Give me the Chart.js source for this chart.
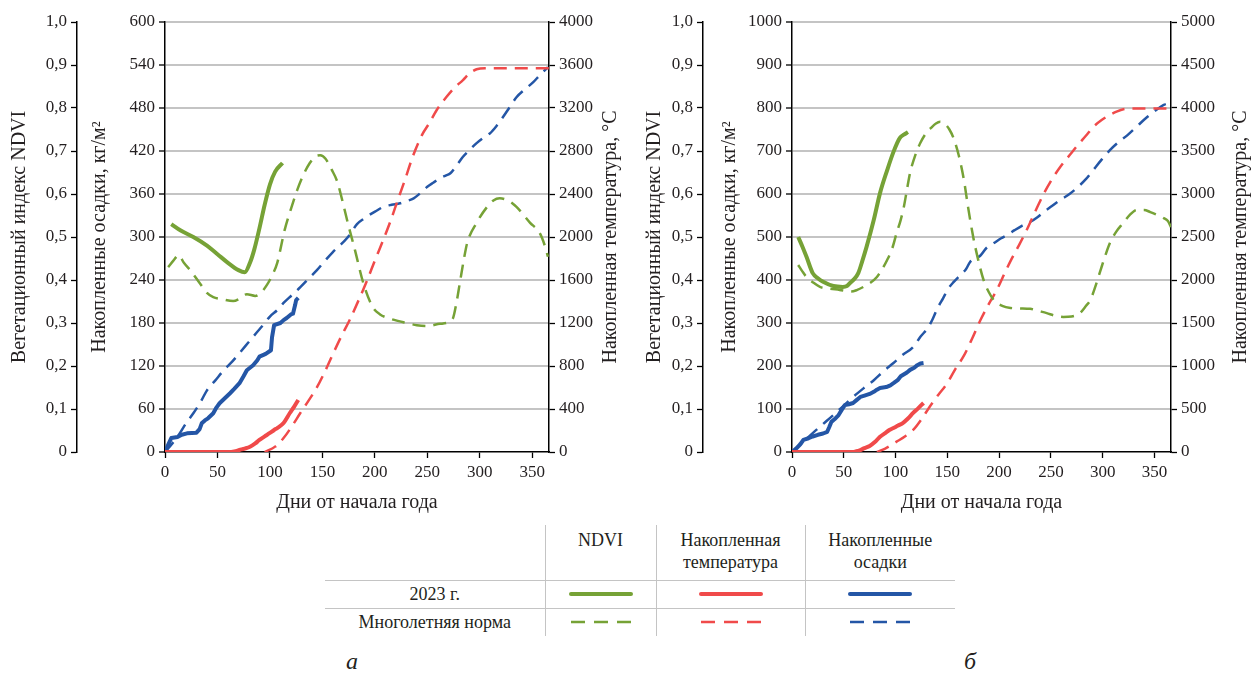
<!DOCTYPE html>
<html lang="ru">

<head>
    <meta charset="UTF-8">
    <title>NDVI, накопленная температура и осадки</title>
    <script src="https://cdn.jsdelivr.net/npm/chart.js@4.4.1/dist/chart.umd.min.js"></script>
    <style>
        body {
            margin: 0;
            background: #fff;
            font-family: "Liberation Serif", "Tinos", "Times New Roman", "DejaVu Serif", serif;
            color: #231f20;
        }

        .panel {
            position: absolute;
            top: 0;
            height: 520px;
        }

        #panelA { left: 0; width: 632px; }
        #panelB { left: 640px; width: 612px; }

        .legend {
            position: absolute;
            left: 325px;
            top: 525px;
            border-collapse: collapse;
            font-size: 18px;
            line-height: 22px;
        }

        .legend td {
            padding: 0;
            text-align: center;
            border-color: #c4c4c4;
            border-style: solid;
            border-width: 0;
        }

        .legend tr.head td { height: 55px; vertical-align: top; padding-top: 4px; box-sizing: border-box; }
        .legend tr.row td { height: 27px; }
        .legend tr.row td { border-top-width: 1.5px; }
        .legend td + td { border-left-width: 1.5px; }
        .legend svg { display: block; margin: 0 auto; }

        .tag {
            position: absolute;
            top: 648px;
            font-size: 24px;
            font-style: italic;
        }
    </style>
</head>

<body>
    <div class="panel" id="panelA"><canvas id="chartA"></canvas></div>
    <div class="panel" id="panelB"><canvas id="chartB"></canvas></div>

    <table class="legend">
        <tr class="head">
            <td style="width:220px"></td>
            <td style="width:111px">NDVI</td>
            <td style="width:149px">Накопленная<br>температура</td>
            <td style="width:150px">Накопленные<br>осадки</td>
        </tr>
        <tr class="row">
            <td>2023 г.</td>
            <td><svg width="64" height="8"><line x1="2" y1="4" x2="62" y2="4" stroke="#76a236" stroke-width="4" stroke-linecap="round"/></svg></td>
            <td><svg width="64" height="8"><line x1="2" y1="4" x2="62" y2="4" stroke="#f04a4a" stroke-width="4" stroke-linecap="round"/></svg></td>
            <td><svg width="64" height="8"><line x1="2" y1="4" x2="62" y2="4" stroke="#2456a6" stroke-width="4" stroke-linecap="round"/></svg></td>
        </tr>
        <tr class="row">
            <td>Многолетняя норма</td>
            <td><svg width="64" height="8"><line x1="2" y1="4" x2="62" y2="4" stroke="#76a236" stroke-width="2.5" stroke-dasharray="14 9"/></svg></td>
            <td><svg width="64" height="8"><line x1="2" y1="4" x2="62" y2="4" stroke="#f04a4a" stroke-width="2.5" stroke-dasharray="14 9"/></svg></td>
            <td><svg width="64" height="8"><line x1="2" y1="4" x2="62" y2="4" stroke="#2456a6" stroke-width="2.5" stroke-dasharray="14 9"/></svg></td>
        </tr>
    </table>

    <div class="tag" style="left:346px">а</div>
    <div class="tag" style="left:964px">б</div>

    <script>
        // ---- data: [day, value] pairs ----
        const xTicks = [0, 50, 100, 150, 200, 250, 300, 350];

        // panel a
        const ndvi2023A = [[6,0.53],[15,0.515],[27,0.5],[40,0.48],[50,0.46],[60,0.44],[70,0.423],[76,0.418],[81,0.44],[85,0.47],[90,0.52],[95,0.575],[100,0.622],[105,0.652],[112,0.672]];
        const ndviNormA = [[3,0.43],[8,0.445],[13,0.458],[18,0.44],[25,0.42],[33,0.393],[40,0.37],[46,0.36],[55,0.355],[65,0.351],[72,0.358],[78,0.367],[86,0.363],[92,0.372],[97,0.388],[102,0.41],[107,0.44],[114,0.516],[120,0.565],[126,0.609],[132,0.645],[138,0.672],[143,0.687],[148,0.69],[153,0.682],[159,0.656],[164,0.63],[169,0.585],[174,0.535],[181,0.47],[189,0.393],[198,0.337],[205,0.32],[212,0.312],[230,0.3],[240,0.295],[250,0.293],[262,0.298],[274,0.309],[278,0.35],[281,0.393],[285,0.45],[288,0.486],[297,0.533],[307,0.57],[313,0.585],[319,0.59],[327,0.585],[335,0.57],[348,0.533],[357,0.51],[362,0.48],[365,0.454]];
        const temp2023A = [[0,0],[30,0],[60,0],[66,5],[71,19],[76,32],[81,49],[86,80],[90,112],[95,145],[100,177],[104,205],[107,223],[113,270],[119,363],[123,420],[127,484]];
        const tempNormA = [[95,0],[105,50],[113,130],[121,240],[129,363],[137,480],[145,605],[153,760],[160,910],[168,1075],[176,1228],[184,1400],[192,1581],[200,1780],[208,1972],[215,2150],[221,2320],[229,2540],[236,2744],[245,2950],[252,3060],[259,3181],[268,3300],[276,3390],[284,3460],[290,3520],[297,3560],[305,3570],[366,3570]];
        const precip2023A = [[0,0],[3,10],[6,19.5],[12,21],[16,24],[21,26],[30,27],[33,32],[35,40],[38,44],[41,47],[46,54],[49,62],[52,68],[57,75],[62,82],[66,88],[71,96],[75,106],[78,114],[84,121],[88,128],[90,133],[96,137],[101,142],[102,160],[104,177],[110,180],[113,184],[116,187],[120,192],[122,193],[124,205],[125,212],[127,215]];
        const precipNormA = [[0,0],[7,12],[14,26],[20,40],[27,54],[34,70],[40,86],[48,100],[56,114],[64,126],[71,138],[79,152],[87,166],[94,178],[100,189],[107,198],[113,208],[121,219],[129,230],[137,242],[145,254],[152,266],[160,279],[168,290],[176,303],[183,318],[190,326],[195,331],[202,337],[208,342],[216,345],[224,347],[230,350],[237,354],[244,362],[250,370],[256,376],[262,382],[268,386],[272,389],[278,400],[284,412],[290,421],[297,431],[303,438],[310,445],[316,455],[322,467],[328,480],[335,495],[343,506],[351,516],[358,527],[365,537]];

        // panel б
        const ndvi2023B = [[6,0.5],[10,0.478],[14,0.454],[20,0.416],[25,0.404],[30,0.396],[40,0.386],[49,0.384],[53,0.386],[56,0.393],[60,0.402],[64,0.416],[68,0.445],[72,0.477],[79,0.54],[85,0.602],[92,0.656],[98,0.698],[104,0.73],[108,0.738],[112,0.744]];
        const ndviNormB = [[6,0.435],[10,0.42],[14,0.407],[20,0.395],[27,0.384],[36,0.38],[46,0.377],[57,0.373],[63,0.377],[69,0.384],[76,0.394],[82,0.407],[87,0.425],[92,0.447],[97,0.475],[101,0.509],[105,0.54],[108,0.57],[111,0.61],[114,0.649],[119,0.69],[124,0.719],[129,0.74],[134,0.753],[139,0.764],[143,0.768],[148,0.762],[152,0.75],[156,0.73],[161,0.69],[166,0.633],[170,0.57],[175,0.5],[180,0.445],[185,0.4],[190,0.372],[195,0.353],[203,0.34],[211,0.335],[220,0.334],[230,0.333],[238,0.328],[246,0.323],[254,0.317],[262,0.314],[270,0.315],[278,0.323],[284,0.34],[288,0.353],[293,0.385],[298,0.423],[303,0.46],[307,0.486],[313,0.512],[320,0.533],[326,0.551],[333,0.563],[340,0.563],[346,0.558],[352,0.552],[359,0.544],[363,0.537],[366,0.523]];
        const temp2023B = [[0,0],[30,0],[58,0],[62,8],[66,23],[70,45],[75,70],[80,115],[85,178],[90,220],[94,255],[98,279],[102,305],[107,337],[112,390],[117,454],[122,510],[127,570]];
        const tempNormB = [[82,0],[90,40],[101,120],[109,180],[117,256],[125,380],[133,527],[141,660],[150,802],[158,970],[166,1120],[174,1320],[182,1535],[190,1720],[198,1890],[205,2070],[211,2220],[219,2400],[227,2590],[235,2800],[243,3000],[251,3170],[259,3314],[268,3450],[276,3570],[284,3680],[291,3780],[299,3860],[307,3920],[314,3960],[320,3985],[330,3995],[366,3995]];
        const precip2023B = [[0,0],[4,8],[8,18],[11,28],[16,32],[20,36],[25,40],[30,43],[34,47],[36,58],[38,70],[41,76],[45,86],[48,98],[51,109],[55,111],[59,114],[62,120],[66,128],[70,131],[75,135],[79,140],[82,145],[85,149],[91,151],[95,155],[98,160],[102,167],[105,176],[107,179],[111,185],[114,191],[118,196],[121,202],[124,206],[127,207]];
        const precipNormB = [[0,0],[10,22],[20,44],[30,65],[40,86],[50,108],[59,128],[69,148],[79,167],[88,187],[98,207],[107,226],[117,244],[124,268],[131,288],[136,310],[140,332],[146,358],[151,380],[156,395],[162,410],[168,425],[172,442],[177,450],[182,457],[188,475],[195,486],[202,497],[208,505],[215,516],[222,526],[230,535],[237,546],[243,558],[251,572],[259,586],[268,600],[276,616],[284,635],[291,656],[299,680],[307,702],[315,720],[324,737],[333,757],[343,779],[351,794],[359,807],[366,812]];

        const GREEN = '#76a236', RED = '#f04a4a', BLUE = '#2456a6';
        const TXT = '#231f20', GRID = '#c4c4c4';
        const DASH = [13, 8];
        const FAMILY = '"Liberation Serif", "Tinos", "Times New Roman", "DejaVu Serif", serif';

        Chart.defaults.font.family = FAMILY;
        Chart.defaults.color = TXT;

        function pts(arr) {
            return arr.map(p => ({ x: p[0], y: p[1] }));
        }

        function line(data, color, axis, dashed, smooth) {
            return {
                data: pts(data),
                yAxisID: axis,
                borderColor: color,
                borderWidth: dashed ? 2.5 : 4,
                borderDash: dashed ? DASH : [],
                pointRadius: 0,
                fill: false,
                tension: smooth ? 0.4 : 0,
                cubicInterpolationMode: smooth ? 'monotone' : 'default',
                borderCapStyle: 'butt',
                borderJoinStyle: 'round'
            };
        }

        // right axis title reads bottom-to-top, so it is drawn here
        const rightTitle = {
            id: 'rightTitle',
            afterDraw(chart, args, opts) {
                const ctx = chart.ctx;
                const a = chart.chartArea;
                ctx.save();
                ctx.translate(opts.x, (a.top + a.bottom) / 2);
                ctx.rotate(-Math.PI / 2);
                ctx.font = '20px ' + FAMILY;
                ctx.fillStyle = TXT;
                ctx.textAlign = 'center';
                ctx.textBaseline = 'middle';
                ctx.fillText(opts.text, 0, 0);
                ctx.restore();
            }
        };

        const tickFont = { size: 17 };
        const titleFont = { size: 20 };
        const plain = v => String(v);

        function makePanel(id, p) {
            new Chart(document.getElementById(id), {
                type: 'line',
                data: {
                    datasets: [
                        line(p.ndvi, GREEN, 'yN', false, true),
                        line(p.temp, RED, 'yT', false, true),
                        line(p.precip, BLUE, 'yP', false, false),
                        line(p.ndviNorm, GREEN, 'yN', true, true),
                        line(p.tempNorm, RED, 'yT', true, true),
                        line(p.precipNorm, BLUE, 'yP', true, true)
                    ]
                },
                plugins: [rightTitle],
                options: {
                    responsive: true,
                    maintainAspectRatio: false,
                    animation: false,
                    layout: { padding: { top: 22, left: 0, right: 0, bottom: 0 } },
                    plugins: {
                        legend: { display: false },
                        tooltip: { enabled: false },
                        rightTitle: { text: 'Накопленная температура, °С', x: p.rightTitleX }
                    },
                    scales: {
                        x: {
                            type: 'linear',
                            min: 0,
                            max: 366,
                            afterBuildTicks: s => { s.ticks = xTicks.map(v => ({ value: v })); },
                            afterFit: s => { s.height = 68; },
                            ticks: { font: tickFont, padding: 4, maxRotation: 0, callback: plain },
                            grid: { drawOnChartArea: false, tickLength: 6, tickColor: '#000', tickWidth: 1.3 },
                            border: { color: '#000', width: 1.5 },
                            title: { display: true, text: 'Дни от начала года', font: titleFont, color: TXT, padding: { bottom: 5 } }
                        },
                        yN: {
                            position: 'left',
                            weight: 2,
                            min: 0,
                            max: 1,
                            afterFit: s => { s.width = p.wN; },
                            ticks: {
                                stepSize: 0.1,
                                font: tickFont,
                                padding: 4,
                                callback: v => v === 0 ? '0' : v.toFixed(1).replace('.', ',')
                            },
                            grid: { drawOnChartArea: false, tickLength: 6, tickColor: '#000', tickWidth: 1.3 },
                            border: { color: '#000', width: 1.5 },
                            title: { display: true, text: 'Вегетационный индекс NDVI', font: titleFont, color: TXT, padding: { top: p.padN } }
                        },
                        yP: {
                            position: 'left',
                            weight: 1,
                            min: 0,
                            max: p.pMax,
                            afterFit: s => { s.width = p.wP; },
                            ticks: { stepSize: p.pMax / 10, font: tickFont, padding: 4, callback: plain },
                            grid: {
                                color: c => c.tick && c.tick.value === 0 ? 'rgba(0,0,0,0)' : GRID,
                                lineWidth: 2,
                                tickLength: 6,
                                tickColor: '#000',
                                tickWidth: 1.3
                            },
                            border: { color: '#000', width: 1.5 },
                            title: { display: true, text: 'Накопленные осадки, кг/м²', font: titleFont, color: TXT, padding: { top: p.padP } }
                        },
                        yT: {
                            position: 'right',
                            min: 0,
                            max: p.tMax,
                            afterFit: s => { s.width = p.wT; },
                            ticks: { stepSize: p.tMax / 10, font: tickFont, padding: 4, callback: plain },
                            grid: { drawOnChartArea: false, tickLength: 6, tickColor: '#000', tickWidth: 1.3 },
                            border: { color: '#000', width: 1.5 },
                            title: { display: false }
                        }
                    }
                }
            });
        }

        makePanel('chartA', {
            ndvi: ndvi2023A, ndviNorm: ndviNormA,
            temp: temp2023A, tempNorm: tempNormA,
            precip: precip2023A, precipNorm: precipNormA,
            pMax: 600, tMax: 4000,
            wN: 77, wP: 88, wT: 83,
            padN: 8, padP: 11, rightTitleX: 611
        });

        makePanel('chartB', {
            ndvi: ndvi2023B, ndviNorm: ndviNormB,
            temp: temp2023B, tempNorm: tempNormB,
            precip: precip2023B, precipNorm: precipNormB,
            pMax: 1000, tMax: 5000,
            wN: 63, wP: 89, wT: 81,
            padN: 3, padP: 15, rightTitleX: 601
        });
    </script>
</body>

</html>
